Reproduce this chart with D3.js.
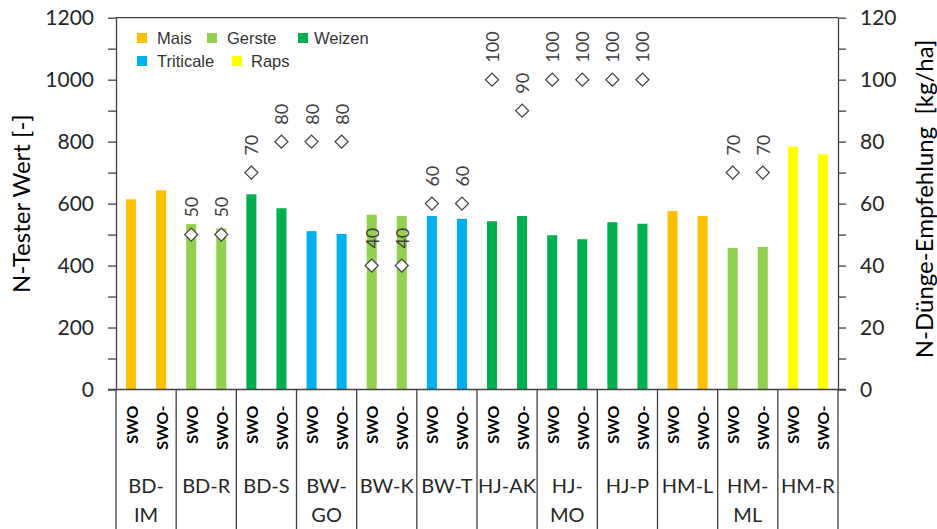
<!DOCTYPE html>
<html>
<head>
<meta charset="utf-8">
<script src="https://cdn.jsdelivr.net/npm/d3@7/dist/d3.min.js"></script>
<style>
  body { margin: 0; background: #fff; }
  svg { font-family: Lato, "Liberation Sans", sans-serif; }
</style>
</head>
<body>
<div id="chart"></div>
<script>
// sites (groups) and their wrapped labels
var sites = ["BD-IM", "BD-R", "BD-S", "BW-GO", "BW-K", "BW-T", "HJ-AK", "HJ-MO", "HJ-P", "HM-L", "HM-ML", "HM-R"];
var siteLines = [["BD-", "IM"], ["BD-R"], ["BD-S"], ["BW-", "GO"], ["BW-K"], ["BW-T"], ["HJ-AK"], ["HJ-", "MO"], ["HJ-P"], ["HM-L"], ["HM-", "ML"], ["HM-R"]];
var siteCrop = ["Mais", "Gerste", "Weizen", "Triticale", "Gerste", "Triticale", "Weizen", "Weizen", "Weizen", "Mais", "Gerste", "Raps"];
var variants = ["SWO", "SWO-"];

// N-Tester values, two per site (SWO, SWO-)
var nTester = [614, 643, 534, 520, 630, 585, 511, 502, 564, 560, 560, 551,
               543, 560, 498, 485, 540, 535, 576, 560, 457, 460, 784, 759];
// N-Duenge-Empfehlung [kg/ha], null = none
var nEmpf = [null, null, 50, 50, 70, 80, 80, 80, 40, 40, 60, 60,
             100, 90, 100, 100, 100, 100, null, null, 70, 70, null, null];

var crops = ["Mais", "Gerste", "Weizen", "Triticale", "Raps"];
var cropColors = ["#FFC000", "#92D050", "#00B050", "#00B0F0", "#FFFF00"];

var leftTicks = [0, 100, 200, 300, 400, 500, 600, 700, 800, 900, 1000, 1100, 1200];
var rightTicks = [0, 10, 20, 30, 40, 50, 60, 70, 80, 90, 100, 110, 120];

var width = 937, height = 529;
var plot = {left: 116, right: 838, top: 17.7, bottom: 389.5};

var color = d3.scaleOrdinal().domain(crops).range(cropColors);

var x = d3.scaleBand().domain(sites).range([plot.left, plot.right]);
var xSub = d3.scaleBand().domain(variants).range([0, x.bandwidth()]);
var y = d3.scaleLinear().domain([0, 1200]).range([plot.bottom, plot.top]);
var y2 = d3.scaleLinear().domain([0, 120]).range([plot.bottom, plot.top]);

// flat rows, one per bar
var rows = [];
sites.forEach(function(s, i) {
  variants.forEach(function(v, j) {
    rows.push({site: s, variant: v, crop: siteCrop[i], value: nTester[i * 2 + j], empf: nEmpf[i * 2 + j]});
  });
});
function cx(d) { return x(d.site) + xSub(d.variant) + xSub.bandwidth() / 2; }

var svg = d3.select("#chart").append("svg")
  .attr("width", width)
  .attr("height", height);

svg.append("rect").attr("width", width).attr("height", height).attr("fill", "#fff");

var lineColor = "#404040";

// bars
var barW = xSub.bandwidth() / 3;
svg.selectAll(".bar")
  .data(rows)
  .enter().append("rect")
  .attr("class", "bar")
  .attr("x", function(d) { return cx(d) - barW / 2; })
  .attr("width", barW)
  .attr("y", function(d) { return y(d.value); })
  .attr("height", function(d) { return y(0) - y(d.value); })
  .attr("fill", function(d) { return color(d.crop); });

// left axis
var axL = svg.append("g")
  .attr("transform", "translate(" + plot.left + ",0)")
  .call(d3.axisLeft(y).tickValues(leftTicks).tickSizeInner(8).tickSizeOuter(0).tickPadding(14)
    .tickFormat(function(d) { return d % 200 === 0 ? d : ""; }));
// right axis
var axR = svg.append("g")
  .attr("transform", "translate(" + plot.right + ",0)")
  .call(d3.axisRight(y2).tickValues(rightTicks).tickSizeInner(8).tickSizeOuter(0).tickPadding(14)
    .tickFormat(function(d) { return d % 20 === 0 ? d : ""; }));
[axL, axR].forEach(function(ax) {
  ax.select(".domain").attr("stroke", lineColor).attr("stroke-width", 1.3);
  ax.selectAll(".tick line").attr("stroke", lineColor).attr("stroke-width", 1.3);
  ax.selectAll(".tick text").attr("font-size", 21).attr("fill", "#262626")
    .attr("font-family", "Lato, sans-serif");
});

// top border and baseline
svg.append("line").attr("x1", plot.left).attr("x2", plot.right)
  .attr("y1", plot.top).attr("y2", plot.top)
  .attr("stroke", lineColor).attr("stroke-width", 1.3);
svg.append("line").attr("x1", plot.left - 8).attr("x2", plot.right + 8)
  .attr("y1", y(0)).attr("y2", y(0))
  .attr("stroke", lineColor).attr("stroke-width", 1.3);

// group separators below the axis
var seps = sites.map(function(s) { return x(s); }).concat([plot.right]);
svg.selectAll(".sep")
  .data(seps)
  .enter().append("line")
  .attr("class", "sep")
  .attr("x1", function(d) { return d; })
  .attr("x2", function(d) { return d; })
  .attr("y1", y(0))
  .attr("y2", height)
  .attr("stroke", lineColor)
  .attr("stroke-width", 1.3);

// variant labels
svg.selectAll(".vlab")
  .data(rows)
  .enter().append("text")
  .attr("class", "vlab")
  .attr("transform", function(d) { return "translate(" + cx(d) + "," + (y(0) + 16) + ") rotate(-90)"; })
  .attr("text-anchor", "end")
  .attr("dominant-baseline", "central")
  .attr("font-size", 16)
  .attr("font-weight", "bold")
  .attr("fill", "#000")
  .text(function(d) { return d.variant; });

// site labels
var sl = svg.selectAll(".slab")
  .data(sites)
  .enter().append("text")
  .attr("class", "slab")
  .attr("text-anchor", "middle")
  .attr("font-size", 20)
  .attr("fill", "#262626");
sl.selectAll("tspan")
  .data(function(d, i) { return siteLines[i]; })
  .enter().append("tspan")
  .attr("x", function() { var s = d3.select(this.parentNode).datum(); return x(s) + x.bandwidth() / 2; })
  .attr("y", function(d, i) { return 493 + i * 29; })
  .text(function(d) { return d; });

// diamonds for recommendation
var marks = rows.filter(function(d) { return d.empf !== null; });
var diamond = d3.symbol().type(d3.symbolSquare).size(85);
svg.selectAll(".dia")
  .data(marks)
  .enter().append("path")
  .attr("class", "dia")
  .attr("d", diamond)
  .attr("transform", function(d) { return "translate(" + cx(d) + "," + y2(d.empf) + ") rotate(45)"; })
  .attr("fill", "#fff")
  .attr("stroke", lineColor)
  .attr("stroke-width", 1.2);
svg.selectAll(".dlab")
  .data(marks)
  .enter().append("text")
  .attr("class", "dlab")
  .attr("transform", function(d) { return "translate(" + cx(d) + "," + (y2(d.empf) - 17) + ") rotate(-90)"; })
  .attr("text-anchor", "start")
  .attr("dominant-baseline", "central")
  .attr("font-size", 18)
  .attr("fill", "#404040")
  .text(function(d) { return d.empf; });

// axis titles
svg.append("text")
  .attr("transform", "translate(20," + ((plot.top + plot.bottom) / 2) + ") rotate(-90)")
  .attr("text-anchor", "middle")
  .attr("dominant-baseline", "central")
  .attr("font-size", 24)
  .attr("fill", "#000")
  .text("N-Tester Wert [-]");
svg.append("text")
  .attr("transform", "translate(923,199) rotate(-90)")
  .attr("text-anchor", "middle")
  .attr("dominant-baseline", "central")
  .attr("font-size", 24)
  .attr("fill", "#000")
  .style("white-space", "pre")
  .text("N-Dünge-Empfehlung  [kg/ha]");

// legend
var legendPos = [
  {sx: 137, tx: 157, y: 38},
  {sx: 207, tx: 227, y: 38},
  {sx: 298, tx: 314, y: 38},
  {sx: 137, tx: 157, y: 61},
  {sx: 232, tx: 251, y: 61}
];
var lg = svg.selectAll(".leg")
  .data(crops)
  .enter().append("g")
  .attr("class", "leg");
lg.append("rect")
  .attr("x", function(d, i) { return legendPos[i].sx; })
  .attr("y", function(d, i) { return legendPos[i].y - 5; })
  .attr("width", 10)
  .attr("height", 10)
  .attr("fill", function(d) { return color(d); });
lg.append("text")
  .attr("x", function(d, i) { return legendPos[i].tx; })
  .attr("y", function(d, i) { return legendPos[i].y; })
  .attr("dominant-baseline", "central")
  .attr("font-family", "'Liberation Sans', Arial, sans-serif")
  .attr("font-size", 16.5)
  .attr("fill", "#333")
  .text(function(d) { return d; });
</script>
</body>
</html>
